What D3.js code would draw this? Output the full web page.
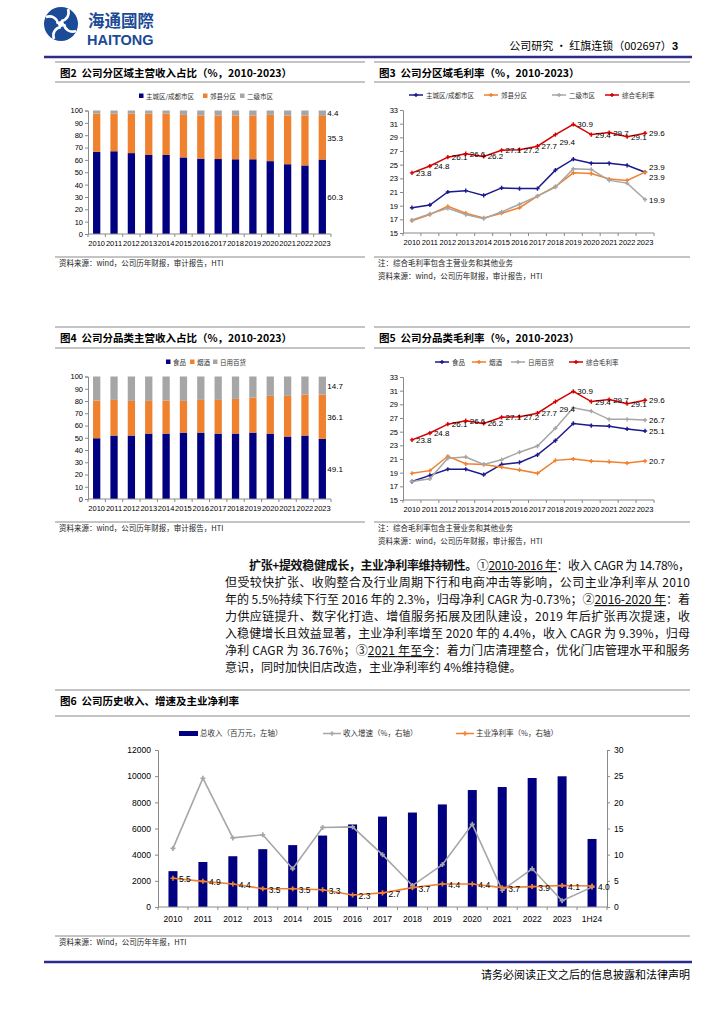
<!DOCTYPE html>
<html>
<head>
<meta charset="utf-8">
<script src="https://cdn.jsdelivr.net/npm/d3@7"></script>
<style>
  body { margin: 0; background: #fff; }
  svg { display: block; }
  text { white-space: pre; }
</style>
</head>
<body>
<svg id="page" width="724" height="1024"></svg>
<script>
// ---- data ----
const years = ["2010","2011","2012","2013","2014","2015","2016","2017","2018","2019","2020","2021","2022","2023"];

// fig 2: revenue share by region (%)
const regionNames = ["主城区/成都市区", "郊县分区", "二级市区"];
const shareMain   = [66.5, 67.0, 65.5, 64.0, 64.0, 62.0, 61.0, 60.7, 60.5, 60.5, 59.0, 56.5, 55.5, 60.3];
const shareSuburb = [31.0, 30.5, 32.0, 33.5, 33.5, 34.5, 35.0, 35.3, 35.5, 35.5, 37.5, 39.5, 40.5, 35.3];
const shareCity   = [2.5, 2.5, 2.5, 2.5, 2.5, 3.5, 4.0, 4.0, 4.0, 4.0, 3.5, 4.0, 4.0, 4.4];

// fig 3: gross margin by region (%)
const gmNames3 = ["主城区/成都市区", "郊县分区", "二级市区", "综合毛利率"];
const gmMain   = [18.7, 19.1, 21.0, 21.2, 20.5, 21.6, 21.5, 21.5, 24.2, 25.8, 25.2, 25.2, 24.9, 23.9];
const gmSuburb = [16.8, 17.7, 18.9, 17.9, 17.2, 17.9, 18.7, 20.4, 21.8, 23.8, 23.7, 22.9, 22.7, 23.9];
const gmCity   = [16.9, 17.8, 18.6, 17.7, 17.1, 18.1, 19.2, 20.4, 21.7, 24.4, 24.3, 22.7, 22.3, 19.9];
const gmTotal  = [23.8, 24.8, 26.1, 26.6, 26.2, 27.1, 27.2, 27.7, 29.4, 30.9, 29.4, 29.7, 29.1, 29.6];

// fig 4: revenue share by category (%)
const catNames = ["食品", "烟酒", "日用百货"];
const shareFood    = [49.6, 51.8, 51.8, 53.4, 53.4, 54.2, 54.2, 53.4, 53.4, 54.2, 53.4, 51.0, 51.8, 49.1];
const shareTobacco = [30.8, 29.1, 28.3, 26.7, 27.0, 25.9, 26.7, 27.5, 28.3, 28.6, 30.8, 33.2, 33.5, 36.1];
const shareDaily   = [19.6, 19.1, 19.9, 19.9, 19.6, 19.9, 19.1, 19.1, 18.3, 17.2, 15.8, 15.8, 14.7, 14.7];

// fig 5: gross margin by category (%)
const gmNames5 = ["食品", "烟酒", "日用百货", "综合毛利率"];
const gmFood    = [17.7, 18.6, 19.5, 19.5, 18.7, 20.2, 20.5, 21.6, 23.7, 26.2, 25.9, 25.8, 25.4, 25.1];
const gmTobacco = [18.9, 19.3, 21.4, 20.3, 20.2, 19.8, 19.4, 18.9, 20.8, 21.0, 20.7, 20.6, 20.4, 20.7];
const gmDaily   = [17.7, 18.1, 21.1, 21.3, 20.2, 20.9, 22.0, 22.9, 25.5, 28.5, 28.0, 26.8, 26.8, 26.7];

// fig 6: revenue, growth, core net margin
const years6 = ["2010","2011","2012","2013","2014","2015","2016","2017","2018","2019","2020","2021","2022","2023","1H24"];
const names6 = ["总收入（百万元，左轴）", "收入增速（%，右轴）", "主业净利率（%，右轴）"];
const revenue   = [2740, 3440, 3880, 4420, 4730, 5460, 6310, 6910, 7220, 7840, 8940, 9170, 9860, 9990, 5200];
const revGrowth = [11.2, 24.6, 13.2, 13.8, 7.3, 15.2, 15.3, 10.0, 4.1, 8.1, 15.8, 3.2, 7.3, 1.2, 3.8];
const netMargin = [5.5, 4.9, 4.4, 3.5, 3.5, 3.3, 2.3, 2.7, 3.7, 4.4, 4.4, 3.7, 3.9, 4.1, 4.0];

// ---- style ----
const CJK = "'Noto Sans CJK SC', sans-serif";
const SANS = "'Liberation Sans', Arial, 'Noto Sans CJK SC', sans-serif";
const NAVY = "#000080", ORANGE = "#f0812f", GRAY = "#a6a6a6", RED = "#d40000";
const LINEBLUE = "#1a1a8c";
const RULE = "#8a8a8a";

const svg = d3.select("#page");

function hline(x1, x2, y, color, w) {
  svg.append("line").attr("x1", x1).attr("x2", x2).attr("y1", y).attr("y2", y)
    .attr("stroke", color).attr("stroke-width", w);
}
function txt(x, y, s, size, opts = {}) {
  return svg.append("text").attr("x", x).attr("y", y).text(s)
    .attr("font-family", opts.family || CJK).attr("font-size", size)
    .attr("font-weight", opts.bold ? "bold" : null)
    .attr("fill", opts.fill || "#000")
    .attr("text-anchor", opts.anchor || "start");
}

// ---- header ----
const logo = svg.append("g").attr("transform", "translate(61,24)");
logo.append("circle").attr("r", 17).attr("fill", "#1b4a96");
[0, 90, 180, 270].forEach(a => {
  logo.append("path").attr("d", "M0,-3 C6,-4 9,-9 7,-15").attr("fill", "none")
    .attr("stroke", "#fff").attr("stroke-width", 2.6).attr("transform", `rotate(${a})`);
});
logo.append("circle").attr("r", 3).attr("fill", "#fff");
txt(88, 27, "海通國際", 16.5, { bold: true, fill: "#1b4a96" });
txt(87, 45, "HAITONG", 14.5, { bold: true, fill: "#1b4a96", family: SANS });
const ht = txt(678, 50, "公司研究 · 红旗连锁（002697）", 11, { anchor: "end" });
ht.append("tspan").text("3").attr("font-weight", "bold").attr("font-family", SANS);
hline(44, 692, 57, "#2b2b8c", 2.5);

// ---- panel frame ----
function panel(x1, x2, top, title, underY, srcY, notes) {
  hline(x1, x2, top, RULE, 1.2);
  txt(x1 + 5, top + 15, title, 10.5, { bold: true });
  hline(x1, x2, underY, RULE, 1);
  hline(x1, x2, srcY, RULE, 1);
  notes.forEach((n, i) => txt(x1 + 4, srcY + 9 + i * 13, n, 7.5, { fill: "#222" }));
}

function styleAxis(g, size) {
  g.selectAll(".domain").attr("stroke", RULE);
  g.selectAll(".tick line").attr("stroke", RULE);
  g.selectAll(".tick text").attr("font-family", SANS).attr("font-size", size).attr("fill", "#000");
}

function catAxis(x, y0, labelY, labels, size) {
  const g = svg.append("g");
  const [a, b] = x.range();
  g.append("line").attr("x1", a).attr("x2", b).attr("y1", y0).attr("y2", y0).attr("stroke", RULE);
  const edges = labels.map(d => x(d)).concat([b]);
  g.selectAll("line.tk").data(edges).join("line").attr("class", "tk")
    .attr("x1", d => d).attr("x2", d => d).attr("y1", y0).attr("y2", y0 + 3).attr("stroke", RULE);
  g.selectAll("text").data(labels).join("text")
    .attr("x", d => x(d) + x.bandwidth() / 2).attr("y", labelY)
    .attr("text-anchor", "middle").attr("font-family", SANS).attr("font-size", size).text(d => d);
}

function legendSquares(items, colors, xs, y) {
  items.forEach((n, i) => {
    svg.append("rect").attr("x", xs[i]).attr("y", y - 2.5).attr("width", 4.5).attr("height", 4.5).attr("fill", colors[i]);
    txt(xs[i] + 7, y + 2.5, n, 6.5, { fill: "#333" });
  });
}
function legendLines(items, colors, xs, y) {
  items.forEach((n, i) => {
    svg.append("line").attr("x1", xs[i]).attr("x2", xs[i] + 14).attr("y1", y).attr("y2", y)
      .attr("stroke", colors[i]).attr("stroke-width", 1.5);
    svg.append("path").attr("d", d3.symbol(d3.symbolCross, 10)())
      .attr("transform", `translate(${xs[i] + 7},${y})`).attr("fill", colors[i]);
    txt(xs[i] + 17, y + 2.5, n, 6.5, { fill: "#333" });
  });
}

// ---- stacked share bars (fig 2 / fig 4) ----
function stackedShare(opt) {
  const x = d3.scaleBand().domain(years).range([opt.x0, opt.x1]);
  const y = d3.scaleLinear().domain([0, 100]).range([opt.yBot, opt.yTop]);
  const keys = opt.series.map((s, k) => "s" + k);
  const rows = years.map((yr, i) => {
    const o = { year: yr };
    opt.series.forEach((s, k) => o["s" + k] = s[i]);
    return o;
  });
  const layers = d3.stack().keys(keys)(rows);
  const bw = x.bandwidth() * 0.42;
  svg.append("g").selectAll("g").data(layers).join("g").attr("fill", (d, k) => opt.colors[k])
    .selectAll("rect").data(d => d).join("rect")
    .attr("x", d => x(d.data.year) + (x.bandwidth() - bw) / 2).attr("width", bw)
    .attr("y", d => y(d[1])).attr("height", d => y(d[0]) - y(d[1]));

  const ya = svg.append("g").attr("transform", `translate(${opt.x0},0)`)
    .call(d3.axisLeft(y).tickValues(d3.range(0, 101, 10)).tickSize(3).tickPadding(2));
  styleAxis(ya, 7.5);
  catAxis(x, opt.yBot, opt.yBot + 12, years, 7.5);

  // labels for the last bar
  const last = layers.map(l => l[l.length - 1]);
  const lx = x(years[years.length - 1]) + x.bandwidth() / 2 + 5;
  last.forEach(d => {
    txt(lx, y((d[0] + d[1]) / 2) + 3, d3.format(".1f")(d[1] - d[0]), 8, { family: SANS });
  });
}

// ---- margin lines (fig 3 / fig 5) ----
function marginLines(opt) {
  const x = d3.scaleBand().domain(years).range([opt.x0, opt.x1]);
  const y = d3.scaleLinear().domain([15, 33]).range([opt.yBot, opt.yTop]);
  const cx = d => x(d) + x.bandwidth() / 2;
  const ya = svg.append("g").attr("transform", `translate(${opt.x0},0)`)
    .call(d3.axisLeft(y).tickValues(d3.range(15, 34, 2)).tickSize(3).tickPadding(2));
  styleAxis(ya, 7.5);
  catAxis(x, opt.yBot, opt.yBot + 12, years, 7.5);

  const line = d3.line().x((v, i) => cx(years[i])).y(v => y(v));
  opt.series.forEach((s, k) => {
    svg.append("path").datum(s).attr("d", line).attr("fill", "none")
      .attr("stroke", opt.colors[k]).attr("stroke-width", 1.5);
    svg.append("g").selectAll("path").data(s).join("path")
      .attr("d", d3.symbol(d3.symbolCross, 10)())
      .attr("transform", (v, i) => `translate(${cx(years[i])},${y(v)})`)
      .attr("fill", opt.colors[k]);
  });
  // total margin labels
  const tot = opt.series[opt.series.length - 1];
  tot.forEach((v, i) => {
    const dy = i === 8 ? 10 : 3;
    txt(cx(years[i]) + 4, y(v) + dy, d3.format(".1f")(v), 8, { family: SANS });
  });
  // end labels for the other series
  opt.endLabels.forEach(e => {
    const v = opt.series[e.k][years.length - 1];
    txt(cx(years[years.length - 1]) + 4, y(v) + e.dy, d3.format(".1f")(v), 8, { family: SANS });
  });
}

// fig 2
panel(55, 365, 62, "图2  公司分区域主营收入占比（%，2010-2023）", 82, 257, ["资料来源：wind，公司历年财报，审计报告，HTI"]);
legendSquares(regionNames, [NAVY, ORANGE, GRAY], [139, 203, 240], 96);
stackedShare({ x0: 88, x1: 331, yTop: 110.5, yBot: 234, series: [shareMain, shareSuburb, shareCity], colors: [NAVY, ORANGE, GRAY] });

// fig 3
panel(374, 690, 62, "图3  公司分区域毛利率（%，2010-2023）", 82, 257, ["注：综合毛利率包含主营业务和其他业务", "资料来源：wind，公司历年财报，审计报告，HTI"]);
legendLines(gmNames3, [LINEBLUE, ORANGE, GRAY, RED], [409, 484, 552, 605], 95);
marginLines({ x0: 403, x1: 654, yTop: 110, yBot: 233, series: [gmMain, gmSuburb, gmCity, gmTotal],
  colors: [LINEBLUE, ORANGE, GRAY, RED], endLabels: [{ k: 0, dy: -2 }, { k: 1, dy: 8 }, { k: 2, dy: 3 }] });

// fig 4
panel(55, 365, 327, "图4  公司分品类主营收入占比（%，2010-2023）", 348, 522, ["资料来源：wind，公司历年财报，审计报告，HTI"]);
legendSquares(catNames, [NAVY, ORANGE, GRAY], [166, 190, 213], 362);
stackedShare({ x0: 88, x1: 331, yTop: 376.5, yBot: 499, series: [shareFood, shareTobacco, shareDaily], colors: [NAVY, ORANGE, GRAY] });

// fig 5
panel(374, 690, 327, "图5  公司分品类毛利率（%，2010-2023）", 348, 522, ["注：综合毛利率包含主营业务和其他业务", "资料来源：wind，公司历年财报，审计报告，HTI"]);
legendLines(gmNames5, [LINEBLUE, ORANGE, GRAY, RED], [435, 472, 511, 569], 362);
marginLines({ x0: 403, x1: 654, yTop: 377, yBot: 500, series: [gmFood, gmTobacco, gmDaily, gmTotal],
  colors: [LINEBLUE, ORANGE, GRAY, RED], endLabels: [{ k: 0, dy: 3 }, { k: 1, dy: 3 }, { k: 2, dy: 3 }] });

// ---- paragraph ----
const para = [
  [{ t: "扩张+提效稳健成长，主业净利率维持韧性。", b: 1 }, { t: "①" }, { t: "2010-2016 年", u: 1 }, { t: "：收入 CAGR 为 14.78%，" }],
  [{ t: "但受较快扩张、收购整合及行业周期下行和电商冲击等影响，公司主业净利率从 2010" }],
  [{ t: "年的 5.5%持续下行至 2016 年的 2.3%，归母净利 CAGR 为-0.73%；②" }, { t: "2016-2020 年", u: 1 }, { t: "：着" }],
  [{ t: "力供应链提升、数字化打造、增值服务拓展及团队建设，2019 年后扩张再次提速，收" }],
  [{ t: "入稳健增长且效益显著，主业净利率增至 2020 年的 4.4%，收入 CAGR 为 9.39%，归母" }],
  [{ t: "净利 CAGR 为 36.76%；③" }, { t: "2021 年至今", u: 1 }, { t: "：着力门店清理整合，优化门店管理水平和服务" }],
  [{ t: "意识，同时加快旧店改造，主业净利率约 4%维持稳健。" }]
];
para.forEach((line, i) => {
  const x = i === 0 ? 249 : 225;
  const t = svg.append("text").attr("x", x).attr("y", 570 + i * 17)
    .attr("font-family", CJK).attr("font-size", 12).attr("fill", "#111");
  if (i < para.length - 1) t.attr("textLength", 690 - x).attr("lengthAdjust", "spacing");
  line.forEach(s => {
    t.append("tspan").text(s.t)
      .attr("font-weight", s.b ? "bold" : null)
      .attr("text-decoration", s.u ? "underline" : null);
  });
});

// ---- fig 6 ----
panel(55, 690, 690, "图6  公司历史收入、增速及主业净利率", 716, 936, ["资料来源：Wind，公司历年年报，HTI"]);
{
  const x = d3.scaleBand().domain(years6).range([158, 607]);
  const yL = d3.scaleLinear().domain([0, 12000]).range([907, 750]);
  const yR = d3.scaleLinear().domain([0, 30]).range([907, 750]);
  const cx = d => x(d) + x.bandwidth() / 2;
  const bw = 9;

  svg.append("g").selectAll("rect").data(revenue).join("rect")
    .attr("x", (v, i) => cx(years6[i]) - bw / 2).attr("width", bw)
    .attr("y", v => yL(v)).attr("height", v => yL(0) - yL(v)).attr("fill", NAVY);

  const aL = svg.append("g").attr("transform", "translate(158,0)")
    .call(d3.axisLeft(yL).tickValues(d3.range(0, 12001, 2000)).tickFormat(d3.format("d")).tickSize(3).tickPadding(4));
  styleAxis(aL, 8.5);
  const aR = svg.append("g").attr("transform", "translate(607,0)")
    .call(d3.axisRight(yR).tickValues(d3.range(0, 31, 5)).tickSize(3).tickPadding(4));
  styleAxis(aR, 8.5);
  catAxis(x, 907, 922, years6, 8.5);

  const ln = yy => d3.line().x((v, i) => cx(years6[i])).y(v => yy(v));
  [[revGrowth, GRAY], [netMargin, ORANGE]].forEach(([s, c]) => {
    svg.append("path").datum(s).attr("d", ln(yR)).attr("fill", "none").attr("stroke", c).attr("stroke-width", 1.6);
    svg.append("g").selectAll("path").data(s).join("path")
      .attr("d", d3.symbol(d3.symbolCross, 14)())
      .attr("transform", (v, i) => `translate(${cx(years6[i])},${yR(v)})`).attr("fill", c);
  });
  netMargin.forEach((v, i) => {
    txt(cx(years6[i]) + 6, yR(v) + 4, d3.format(".1f")(v), 8.5, { family: SANS });
  });

  // legend
  svg.append("rect").attr("x", 179).attr("y", 731).attr("width", 19).attr("height", 5).attr("fill", NAVY);
  txt(200, 736, names6[0], 7.5, { fill: "#333" });
  [[323, GRAY, names6[1]], [456, ORANGE, names6[2]]].forEach(([lx, c, n]) => {
    svg.append("line").attr("x1", lx).attr("x2", lx + 18).attr("y1", 733.5).attr("y2", 733.5).attr("stroke", c).attr("stroke-width", 1.5);
    svg.append("path").attr("d", d3.symbol(d3.symbolCross, 12)()).attr("transform", `translate(${lx + 9},733.5)`).attr("fill", c);
    txt(lx + 20, 736, n, 7.5, { fill: "#333" });
  });
}

// ---- footer ----
hline(44, 692, 962, "#2b2b8c", 2.5);
txt(690, 979, "请务必阅读正文之后的信息披露和法律声明", 11, { anchor: "end" });
</script>
</body>
</html>
